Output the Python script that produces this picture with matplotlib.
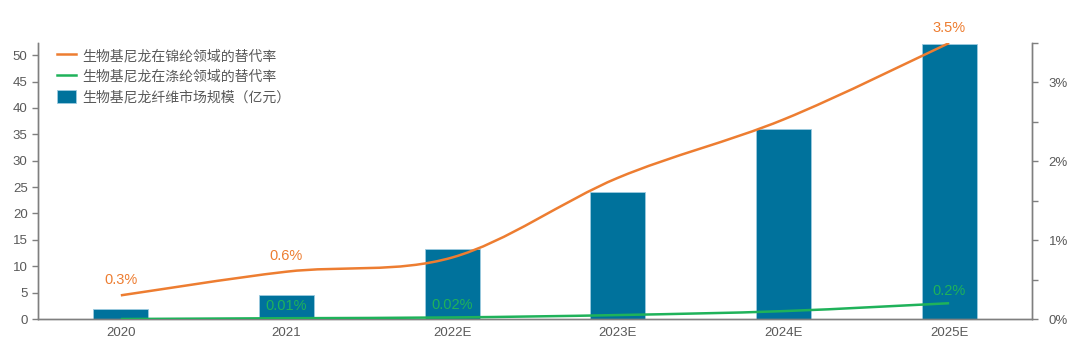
import matplotlib
matplotlib.use("Agg")
import matplotlib.pyplot as plt
from matplotlib.path import Path
from matplotlib.patches import PathPatch
from matplotlib.lines import Line2D
from matplotlib.patches import Patch
import numpy as np

plt.rcParams['font.family'] = ['Noto Sans CJK SC', 'DejaVu Sans']

categories = ["2020", "2021", "2022E", "2023E", "2024E", "2025E"]
market_size = [1.9, 4.5, 13.3, 24.0, 36.0, 52.2]          # 亿元
nylon_rate = [0.003, 0.006, 0.0078, 0.0179, 0.0253, 0.035]
polyester_rate = [0.0, 0.0001, 0.0002, 0.0005, 0.0010, 0.002]
nylon_labels = {0: "0.3%", 1: "0.6%", 5: "3.5%"}
polyester_labels = {1: "0.01%", 2: "0.02%", 5: "0.2%"}

BAR = "#00729C"
ORANGE = "#ED7D31"
GREEN = "#1FB25A"
GRAY = "#595959"
SPINE = "#7F7F7F"

fig = plt.figure(figsize=(10.8, 3.54), dpi=100)
ax = fig.add_axes([38/1080, 1-319/354, (1032-38)/1080, (319-43)/354])
ax2 = ax.twinx()

x = np.arange(len(categories))
ax.bar(x, market_size, width=0.33, color=BAR, edgecolor="#9CCBE0", linewidth=0.6, zorder=2)
ax.set_xlim(-0.5, len(categories) - 0.5)
ax.set_ylim(0, 52.3)
ax.set_yticks(np.arange(0, 51, 5))
ax.set_xticks(x)
ax.set_xticklabels(categories)

def smooth_path(xs, ys, t=1/6):
    xs = np.asarray(xs, float); ys = np.asarray(ys, float)
    n = len(xs)
    verts = [(xs[0], ys[0])]
    codes = [Path.MOVETO]
    for i in range(n - 1):
        p0 = (xs[max(i-1, 0)], ys[max(i-1, 0)])
        p1 = (xs[i], ys[i]); p2 = (xs[i+1], ys[i+1])
        p3 = (xs[min(i+2, n-1)], ys[min(i+2, n-1)])
        c1 = (p1[0] + (p2[0]-p0[0])*t, p1[1] + (p2[1]-p0[1])*t)
        c2 = (p2[0] - (p3[0]-p1[0])*t, p2[1] - (p3[1]-p1[1])*t)
        verts += [c1, c2, p2]
        codes += [Path.CURVE4]*3
    return Path(verts, codes)

for data, col in [(nylon_rate, ORANGE), (polyester_rate, GREEN)]:
    pp = PathPatch(smooth_path(x, data), facecolor="none", edgecolor=col,
                   linewidth=1.8, transform=ax2.transData, zorder=3, capstyle="butt")
    ax2.add_patch(pp)

ax2.set_ylim(0, 0.035)
ax2.set_yticks([0, 0.01, 0.02, 0.03])
ax2.set_yticklabels(["0%", "1%", "2%", "3%"])
ax2.set_yticks(np.arange(0.005, 0.0351, 0.01), minor=True)

for i, s in nylon_labels.items():
    ax2.annotate(s, (x[i], nylon_rate[i]), xytext=(0, 6), textcoords="offset points",
                 ha="center", va="bottom", color=ORANGE, fontsize=10.5,
                 family=["Liberation Sans", "DejaVu Sans"])
for i, s in polyester_labels.items():
    ax2.annotate(s, (x[i], polyester_rate[i]), xytext=(0, 4), textcoords="offset points",
                 ha="center", va="bottom", color=GREEN, fontsize=10.5,
                 family=["Liberation Sans", "DejaVu Sans"])

for a in (ax, ax2):
    for sp in ["top"]:
        a.spines[sp].set_visible(False)
    for sp in ["left", "right", "bottom"]:
        a.spines[sp].set_color(SPINE)
        a.spines[sp].set_linewidth(1.0)
    a.tick_params(colors=SPINE, labelcolor=GRAY, labelsize=9.5, length=4, width=1)
    a.tick_params(which="minor", colors=SPINE, length=4, width=1)
    for lab in a.get_yticklabels() + a.get_xticklabels():
        lab.set_family(["Liberation Sans", "DejaVu Sans"])
ax.tick_params(axis="x", length=0, pad=6)
ax2.tick_params(axis="y", pad=8)

handles = [Line2D([0], [0], color=ORANGE, lw=1.8),
           Line2D([0], [0], color=GREEN, lw=1.8),
           Patch(facecolor=BAR, edgecolor="#9CCBE0", linewidth=0.6)]
labels = ["生物基尼龙在锦纶领域的替代率", "生物基尼龙在涤纶领域的替代率", "生物基尼龙纤维市场规模（亿元）"]
leg = ax.legend(handles, labels, loc="upper left", bbox_to_anchor=(0.007, 1.025),
                frameon=False, fontsize=10, labelcolor=GRAY, handlelength=1.3,
                handleheight=1.1, handletextpad=0.5, labelspacing=0.45)

fig.savefig("out.png", dpi=100)
